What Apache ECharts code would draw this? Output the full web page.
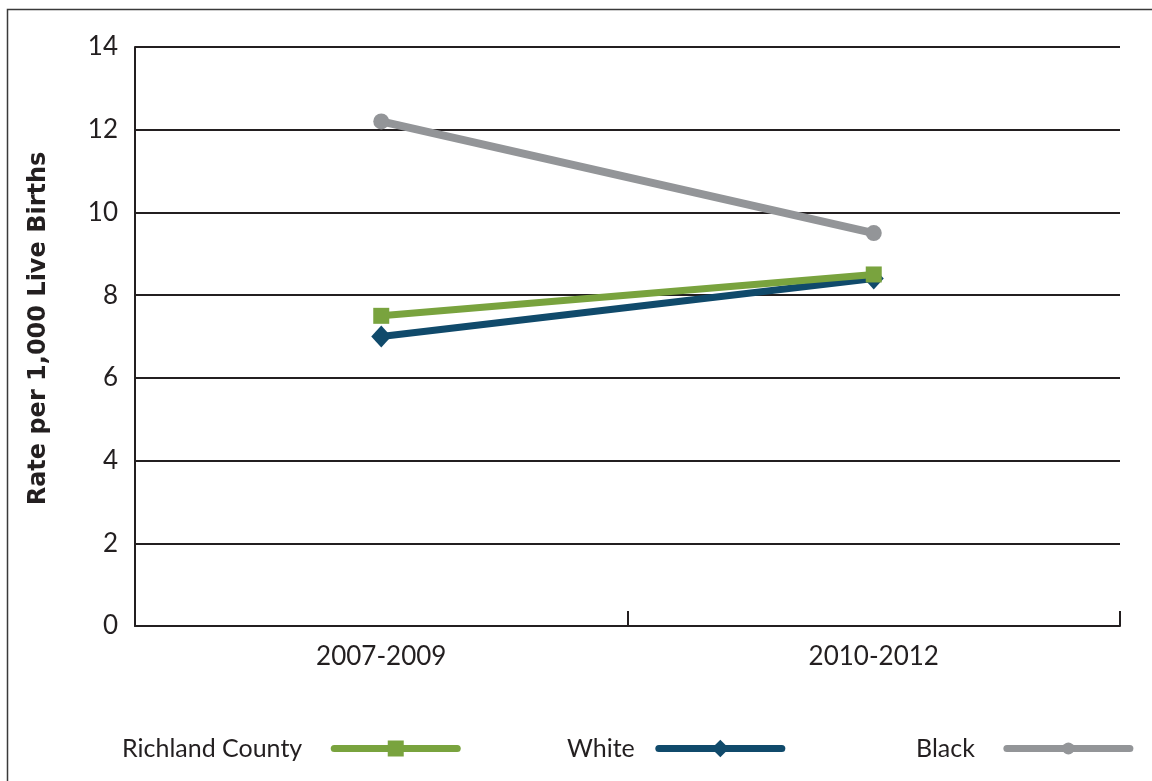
<!DOCTYPE html>
<html>
<head>
<meta charset="utf-8">
<script src="https://cdn.jsdelivr.net/npm/echarts@6/dist/echarts.min.js"></script>
<style>
html,body{margin:0;padding:0;background:#fff;}
#chart{width:1152px;height:781px;}
</style>
</head>
<body>
<div id="chart"></div>
<script>
const categories = ['2007-2009', '2010-2012'];
const richland = [7.5, 8.5];
const white = [7.0, 8.4];
const black = [12.2, 9.5];
const yTicks = [0, 2, 4, 6, 8, 10, 12, 14];
const seriesNames = ['Richland County', 'White', 'Black'];
const colors = ['#79a33e', '#104a6b', '#939598'];

const chart = echarts.init(document.getElementById('chart'), null, {renderer: 'canvas'});
const font = 'Lato, "Open Sans", sans-serif';
const textColor = '#231f20';

function legendAt(name, left, itemHeight, color, gap) {
  return {
    data: [name],
    left: left,
    top: 736,
    align: 'right',
    orient: 'horizontal',
    itemWidth: 123,
    itemHeight: itemHeight,
    itemGap: 0,
    lineStyle: {width: 7, cap: 'round', color: color},
    textStyle: {fontFamily: font, fontSize: 25, color: textColor, padding: [0, gap, 0, 0]},
    padding: 0
  };
}

chart.setOption({
  animation: false,
  backgroundColor: '#fff',
  color: colors,
  graphic: [{
    type: 'rect',
    shape: {x: 7.5, y: 9.5, width: 1200, height: 800},
    style: {fill: 'none', stroke: '#3a3a3a', lineWidth: 1.5},
    silent: true,
    z: -10
  }],
  grid: {left: 135, right: 32, top: 47, bottom: 155},
  legend: [
    legendAt(seriesNames[0], 122, 20, colors[0], 27),
    legendAt(seriesNames[1], 567, 22, colors[1], 19),
    legendAt(seriesNames[2], 916, 15, colors[2], 27)
  ],
  xAxis: {
    type: 'category',
    data: categories,
    boundaryGap: true,
    axisLine: {lineStyle: {color: textColor, width: 2}},
    axisTick: {show: true, inside: true, length: 15, lineStyle: {color: textColor, width: 2}},
    axisLabel: {fontFamily: font, fontSize: 26, color: textColor, margin: 18}
  },
  yAxis: {
    type: 'value',
    min: yTicks[0],
    max: yTicks[yTicks.length - 1],
    interval: 2,
    name: 'Rate per 1,000 Live Births',
    nameLocation: 'middle',
    nameGap: 84,
    nameTextStyle: {fontFamily: '"DejaVu Sans", sans-serif', fontSize: 24, fontWeight: 'bold', color: textColor, padding: [0, 0, 0, 16]},
    axisLine: {show: true, lineStyle: {color: textColor, width: 2}},
    axisTick: {show: false},
    axisLabel: {fontFamily: font, fontSize: 26, color: textColor, margin: 17},
    splitLine: {lineStyle: {color: textColor, width: 2}}
  },
  series: [
    {
      name: seriesNames[0], type: 'line', data: richland, z: 5,
      symbol: 'rect', symbolSize: 16,
      lineStyle: {width: 7, color: colors[0]},
      itemStyle: {color: colors[0]}
    },
    {
      name: seriesNames[1], type: 'line', data: white, z: 4,
      symbol: 'diamond', symbolSize: [20, 22],
      lineStyle: {width: 7, color: colors[1]},
      itemStyle: {color: colors[1]}
    },
    {
      name: seriesNames[2], type: 'line', data: black, z: 3,
      symbol: 'circle', symbolSize: 16,
      lineStyle: {width: 8, color: colors[2]},
      itemStyle: {color: colors[2]}
    }
  ]
});
</script>
</body>
</html>
